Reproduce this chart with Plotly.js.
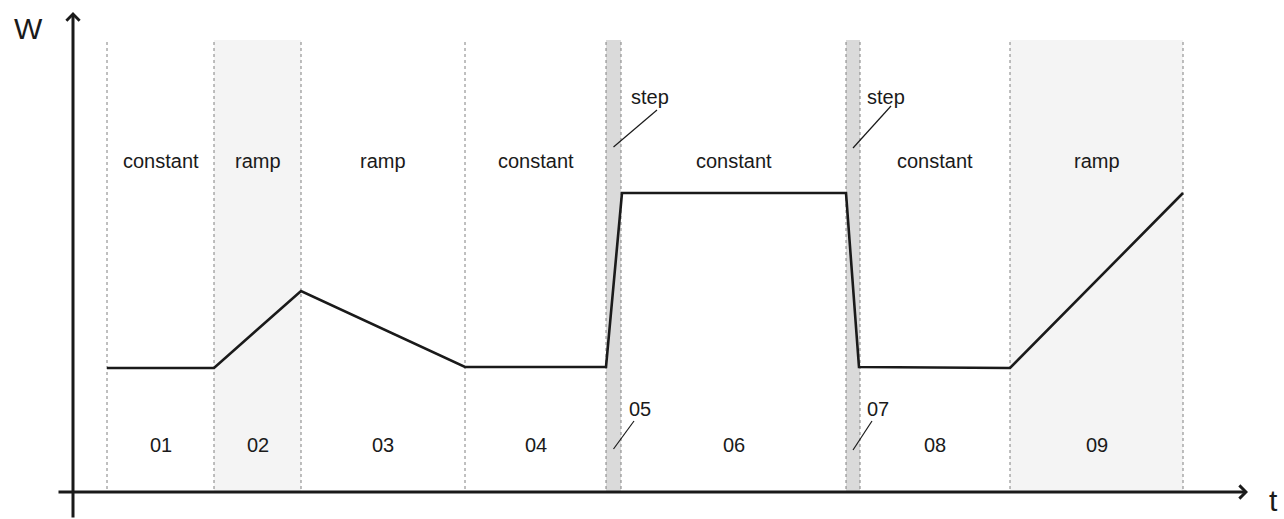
<!DOCTYPE html>
<html>
<head>
<meta charset="utf-8">
<script src="https://cdn.plot.ly/plotly-3.0.1.min.js"></script>
<style>
  html, body { margin: 0; padding: 0; background: #fff; }
  #chart { width: 1284px; height: 519px; }
</style>
</head>
<body>
<div id="chart"></div>
<script>
// segment boundaries on the time axis (arbitrary units)
const boundaries = [3.4, 14.1, 22.8, 39.2, 53.3, 54.8, 77.3, 78.7, 93.7, 111.0];
// segment kind and number, one per segment
const kinds = ['constant', 'ramp', 'ramp', 'constant', 'step', 'constant', 'step', 'constant', 'ramp'];
const numbers = ['01', '02', '03', '04', '05', '06', '07', '08', '09'];
// which segments are shaded in the picture
const shaded = [false, true, false, false, true, false, true, false, true];

// power curve W(t)
const curveT = [3.4, 14.1, 22.8, 39.2, 53.3, 54.9, 77.3, 78.6, 93.7, 111.0];
const curveW = [12.4, 12.4, 20.1, 12.5, 12.5, 29.9, 29.9, 12.5, 12.4, 29.9];

const bandTop = 45.2;
const kindRow = 33.1;
const numberRow = 4.7;
const labelFont = { family: 'Liberation Sans, Arial', size: 20, color: '#1a1a1a' };

const shapes = [];
const annotations = [];

// shaded bands
kinds.forEach((k, i) => {
    if (!shaded[i]) return;
    shapes.push({
        type: 'rect', layer: 'below',
        x0: boundaries[i], x1: boundaries[i + 1], y0: 0, y1: bandTop,
        fillcolor: k === 'step' ? '#dadada' : '#f4f4f4',
        line: { width: 0 }
    });
});

// dotted separators
boundaries.forEach(b => {
    shapes.push({
        type: 'line', layer: 'below',
        x0: b, x1: b, y0: 0.3, y1: bandTop,
        line: { color: '#808080', width: 1, dash: 'dot' }
    });
});

// labels
kinds.forEach((k, i) => {
    const mid = (boundaries[i] + boundaries[i + 1]) / 2;
    if (k === 'step') return;
    annotations.push({ x: mid, y: kindRow, text: k, showarrow: false, font: labelFont });
    annotations.push({ x: mid, y: numberRow, text: numbers[i], showarrow: false, font: labelFont });
});

// step labels with leader lines (offsets)
const stepCallouts = [
    { seg: 4, kindText: [57.7, 39.5], kindLead: [34.5, 58.4, 38.2], numText: [56.7, 8.3], numLead: [4.3, 56.1, 7.1] },
    { seg: 6, kindText: [81.3, 39.5], kindLead: [34.4, 81.8, 38.6], numText: [80.5, 8.3], numLead: [4.2, 79.9, 7.1] }
];
stepCallouts.forEach(c => {
    const mid = (boundaries[c.seg] + boundaries[c.seg + 1]) / 2;
    annotations.push({ x: c.kindText[0], y: c.kindText[1], text: kinds[c.seg], showarrow: false, font: labelFont });
    annotations.push({ x: c.numText[0], y: c.numText[1], text: numbers[c.seg], showarrow: false, font: labelFont });
    shapes.push({ type: 'line', x0: mid, y0: c.kindLead[0], x1: c.kindLead[1], y1: c.kindLead[2],
        line: { color: '#1a1a1a', width: 1.2 } });
    shapes.push({ type: 'line', x0: mid, y0: c.numLead[0], x1: c.numLead[1], y1: c.numLead[2],
        line: { color: '#1a1a1a', width: 1.2 } });
});

// axes with arrows
annotations.push({
    x: 117.5, y: 0, ax: -1.6, ay: 0, axref: 'x', ayref: 'y', text: '',
    showarrow: true, arrowhead: 4, arrowsize: 0.85, arrowwidth: 3, arrowcolor: '#1a1a1a'
});
annotations.push({
    x: 0, y: 48.0, ax: 0, ay: -2.7, axref: 'x', ayref: 'y', text: '',
    showarrow: true, arrowhead: 4, arrowsize: 0.85, arrowwidth: 3, arrowcolor: '#1a1a1a'
});
annotations.push({ x: 120.0, y: -0.8, text: 't', showarrow: false,
    font: { family: 'Liberation Sans, Arial', size: 30, color: '#1a1a1a' } });
annotations.push({ x: -4.5, y: 46.4, text: 'W', showarrow: false,
    font: { family: 'Liberation Sans, Arial', size: 30, color: '#1a1a1a' } });

const data = [{
    x: curveT, y: curveW, type: 'scatter', mode: 'lines',
    line: { color: '#1a1a1a', width: 2.6 },
    hoverinfo: 'skip'
}];

const layout = {
    width: 1284, height: 519,
    margin: { l: 0, r: 0, t: 0, b: 0 },
    showlegend: false,
    xaxis: { range: [-7.3, 121.1], visible: false, fixedrange: true },
    yaxis: { range: [-2.7, 49.2], visible: false, fixedrange: true },
    plot_bgcolor: '#ffffff',
    paper_bgcolor: '#ffffff',
    shapes: shapes,
    annotations: annotations
};

Plotly.newPlot('chart', data, layout, { staticPlot: true });
</script>
</body>
</html>
